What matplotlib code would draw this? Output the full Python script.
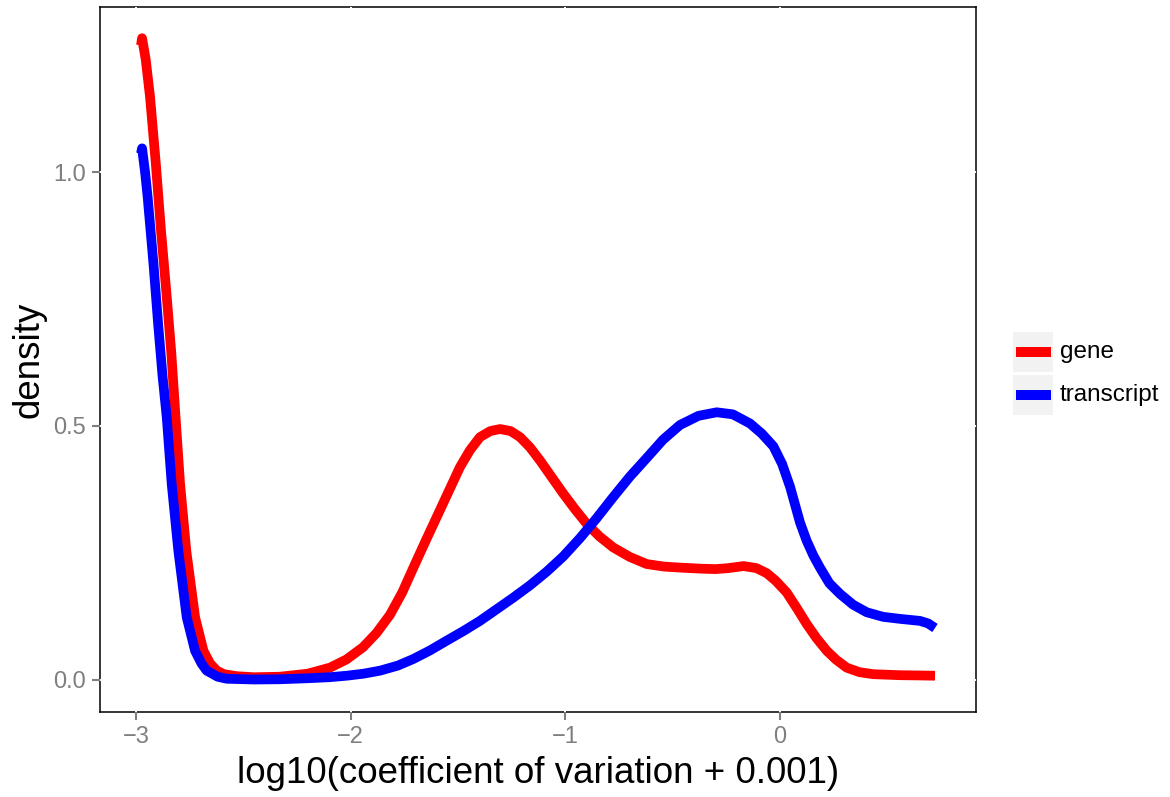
import matplotlib
matplotlib.use("Agg")
import matplotlib.pyplot as plt
from matplotlib.patches import Rectangle
from matplotlib.lines import Line2D

plt.rcParams['font.family'] = ['Liberation Sans', 'DejaVu Sans']

# ---- data ----
gene_x = [-2.977, -2.972, -2.955, -2.935, -2.908, -2.884, -2.857, -2.836, -2.816, -2.795,
          -2.766, -2.725, -2.686, -2.655, -2.624, -2.59, -2.53, -2.45, -2.33, -2.2,
          -2.096, -2.02, -1.943, -1.88, -1.817, -1.76, -1.71, -1.655, -1.60, -1.545,
          -1.491, -1.445, -1.398, -1.35, -1.304, -1.255, -1.211, -1.165, -1.118, -1.065,
          -1.01, -0.955, -0.90, -0.84, -0.778, -0.70, -0.621, -0.54, -0.466, -0.373,
          -0.30, -0.24, -0.17, -0.11, -0.062, -0.02, 0.031, 0.08, 0.124, 0.17,
          0.218, 0.26, 0.31, 0.37, 0.434, 0.559, 0.65, 0.722]
gene_y = [1.250, 1.264, 1.222, 1.149, 1.017, 0.886, 0.754, 0.645, 0.517, 0.386,
          0.254, 0.123, 0.057, 0.032, 0.018, 0.011, 0.007, 0.005, 0.006, 0.012,
          0.024, 0.040, 0.064, 0.092, 0.128, 0.172, 0.219, 0.27, 0.32, 0.37,
          0.419, 0.452, 0.478, 0.490, 0.494, 0.490, 0.478, 0.458, 0.432, 0.400,
          0.367, 0.336, 0.307, 0.282, 0.261, 0.242, 0.228, 0.223, 0.221, 0.219,
          0.218, 0.220, 0.224, 0.220, 0.210, 0.195, 0.172, 0.140, 0.110, 0.082,
          0.057, 0.040, 0.024, 0.015, 0.011, 0.009, 0.0085, 0.008]

transcript_x = [-2.977, -2.972, -2.958, -2.946, -2.919, -2.897, -2.877, -2.857, -2.834, -2.803,
                -2.764, -2.725, -2.695, -2.671, -2.62, -2.578, -2.45, -2.33,
                -2.2, -2.1, -2.019, -1.94, -1.863, -1.78, -1.708, -1.63, -1.553, -1.475,
                -1.398, -1.32, -1.242, -1.165, -1.087, -1.01, -0.932, -0.855, -0.777, -0.70,
                -0.621, -0.545, -0.466, -0.38, -0.295, -0.22, -0.14, -0.085, -0.031, 0.01,
                0.047, 0.093, 0.124, 0.155, 0.186, 0.23, 0.28, 0.34, 0.404, 0.48,
                0.559, 0.652, 0.69, 0.722]
transcript_y = [1.037, 1.047, 1.0, 0.951, 0.820, 0.700, 0.600, 0.517, 0.386, 0.254,
                0.123, 0.057, 0.032, 0.018, 0.006, 0.002, 0.0005, 0.001,
                0.003, 0.005, 0.008, 0.012, 0.018, 0.028, 0.041, 0.058, 0.077, 0.096,
                0.116, 0.139, 0.162, 0.186, 0.213, 0.243, 0.279, 0.318, 0.36, 0.400,
                0.437, 0.473, 0.502, 0.520, 0.527, 0.523, 0.505, 0.485, 0.460, 0.425,
                0.38, 0.31, 0.274, 0.245, 0.221, 0.19, 0.169, 0.148, 0.133, 0.124,
                0.120, 0.116, 0.111, 0.102]

series_names = ['gene', 'transcript']
series_colors = ['#FF0000', '#0000FF']
x_ticks = [-3, -2, -1, 0]
x_ticklabels = ['\u22123', '\u22122', '\u22121', '0']
y_ticks = [0.0, 0.5, 1.0]
y_ticklabels = ['0.0', '0.5', '1.0']
x_title = 'log10(coefficient of variation + 0.001)'
y_title = 'density'

W, H = 1170, 797
fig = plt.figure(figsize=(W / 100, H / 100), dpi=100)
fig.patch.set_facecolor('white')

def fx(px):
    return px / W

def fy(py):
    return 1 - py / H

ax = fig.add_axes([fx(100), fy(712), fx(976) - fx(100), fy(7) - fy(712)])
ax.set_facecolor('white')

lw = 7.0
ax.plot(gene_x, gene_y, color=series_colors[0], lw=lw, solid_capstyle='butt',
        solid_joinstyle='round', zorder=3)
ax.plot(transcript_x, transcript_y, color=series_colors[1], lw=lw, solid_capstyle='butt',
        solid_joinstyle='round', zorder=3)

ax.set_xlim(-3.168, 0.913)
ax.set_ylim(-0.0635, 1.3255)
ax.set_xticks(x_ticks)
ax.set_xticklabels(x_ticklabels)
ax.set_yticks(y_ticks)
ax.set_yticklabels(y_ticklabels)

ax.set_axisbelow(True)
ax.grid(True, color='white', lw=1.4)
for sp in ax.spines.values():
    sp.set_color('black')
    sp.set_linewidth(1.1)
    sp.set_zorder(0.3)

ax.tick_params(axis='both', colors='#7F7F7F', labelcolor='#7F7F7F', length=6,
               width=1.5, labelsize=17, pad=4)

ax.set_xlabel(x_title, fontsize=26.5, color='black', labelpad=6)
ax.set_ylabel(y_title, fontsize=26.5, color='black', labelpad=5)

# ---- legend (manual, ggplot style) ----
key_tops = [332, 375]
for name, col, top in zip(series_names, series_colors, key_tops):
    fig.add_artist(Rectangle((fx(1013), fy(top + 40)), fx(40), 40 / H,
                             transform=fig.transFigure, facecolor='#F2F2F2',
                             edgecolor='none'))
    yc = fy(top + 20)
    fig.add_artist(Line2D([fx(1016), fx(1051)], [yc, yc], transform=fig.transFigure,
                          color=col, lw=7.2, solid_capstyle='butt'))
    fig.text(fx(1060), yc, name, fontsize=17.5, va='center', ha='left', color='black')

fig.savefig('out.png', dpi=100, facecolor='white')
